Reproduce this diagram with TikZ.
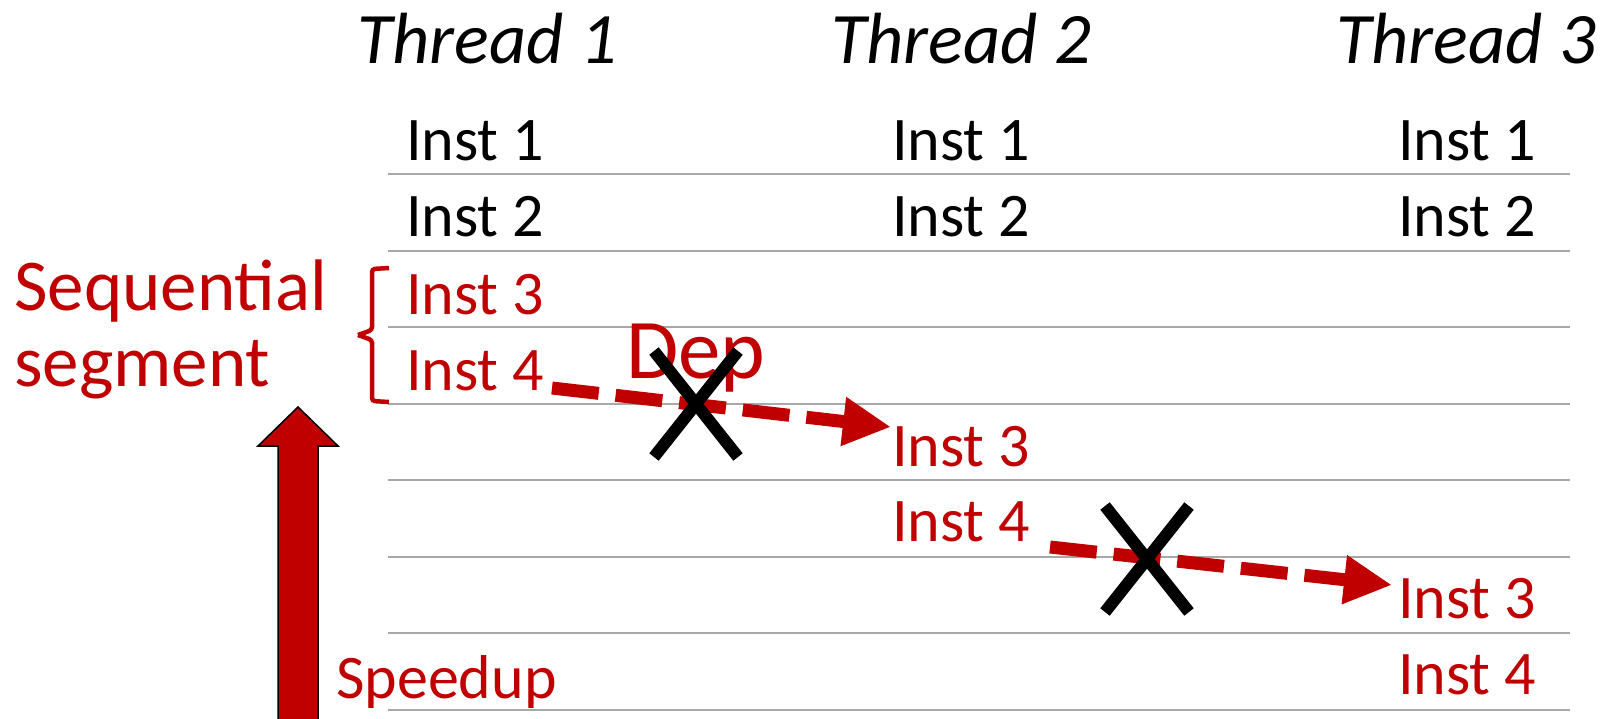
\documentclass[tikz,border=0pt]{standalone}
\usepackage{fontspec}
\setmainfont{Carlito}
\usetikzlibrary{arrows.meta,calc}
\definecolor{dred}{RGB}{192,0,0}
\definecolor{lgray}{RGB}{168,168,168}
\begin{document}
\begin{tikzpicture}[x=1pt,y=-1pt,
  inst/.style={anchor=base west,inner sep=0pt,font=\fontsize{62}{70}\selectfont},
  redinst/.style={inst,text=dred},
  thread/.style={anchor=base west,inner sep=0pt,font=\fontsize{72.5}{80}\selectfont\itshape},
  rowline/.style={draw=lgray,line width=2},
  deparrow/.style={draw=dred,line width=13,dash pattern=on 47pt off 17pt,-{Triangle[length=48pt,width=46pt]}},
  xmark/.style={draw=black,line width=12}]
\useasboundingbox (0,0) rectangle (1602,718);
% row lines
\foreach \y in {174,250.5,327,403.5,480,556.5,633,709.5}
  \draw[rowline] (388,\y) -- (1570,\y);
% headers
\node[thread] (th1) at (357,63) {Thread 1};
\node[thread] (th2) at (831,63) {Thread 2};
\node[thread] (th3) at (1336,63) {Thread 3};
% thread 1
\node[inst] (a1) at (406,160) {Inst 1};
\node[inst] (a2) at (406,236) {Inst 2};
\node[redinst] (a3) at (406,314) {Inst 3};
\node[redinst] (a4) at (406,390) {Inst 4};
% thread 2
\node[inst] (b1) at (892,160) {Inst 1};
\node[inst] (b2) at (892,236) {Inst 2};
\node[redinst] (b3) at (892,466) {Inst 3};
\node[redinst] (b4) at (892,541) {Inst 4};
% thread 3
\node[inst] (c1) at (1398,160) {Inst 1};
\node[inst] (c2) at (1398,236) {Inst 2};
\node[redinst] (c3) at (1398,618) {Inst 3};
\node[redinst] (c4) at (1398,694) {Inst 4};
% labels
\node[anchor=base west,inner sep=0pt,text=dred,font=\fontsize{73}{80}\selectfont] (seq) at (14,310) {Sequential};
\node[anchor=base west,inner sep=0pt,text=dred,font=\fontsize{73}{80}\selectfont] (segm) at (14,386) {segment};
\node[anchor=base west,inner sep=0pt,text=dred,font=\fontsize{62}{70}\selectfont] (spd) at (336,698) {Speedup};
\node[anchor=base west,inner sep=0pt,text=dred,font=\fontsize{85}{90}\selectfont] (dep) at (626,378) {Dep};
% brace
\draw[dred,line width=4.5,rounded corners=3] (389,268) -- (372,269) -- (372,330) -- (358,335);
\draw[dred,line width=4.5,rounded corners=3] (358,335) -- (372,340) -- (372,401) -- (389,402);
% speedup arrow
\draw[fill=dred,draw=black,line width=1.5] (278,730) -- (278,446) -- (258,446) -- (298,407) -- (338,446) -- (318,446) -- (318,730);
% dependency arrows
\coordinate (d1s) at (552,388);
\coordinate (d1e) at (891,427);
\coordinate (d2s) at (1050,547);
\coordinate (d2e) at (1392,585);
\draw[deparrow] (d1s) -- (d1e);
\draw[deparrow] (d2s) -- (d2e);
% crosses
\coordinate (x1) at (696,404);
\coordinate (x2) at (1147,559);
\draw[xmark] ($(x1)+(-42,-53)$) -- ($(x1)+(42,53)$);
\draw[xmark] ($(x1)+(42,-53)$) -- ($(x1)+(-42,53)$);
\draw[xmark] ($(x2)+(-42,-53)$) -- ($(x2)+(42,53)$);
\draw[xmark] ($(x2)+(42,-53)$) -- ($(x2)+(-42,53)$);
\end{tikzpicture}
\end{document}
